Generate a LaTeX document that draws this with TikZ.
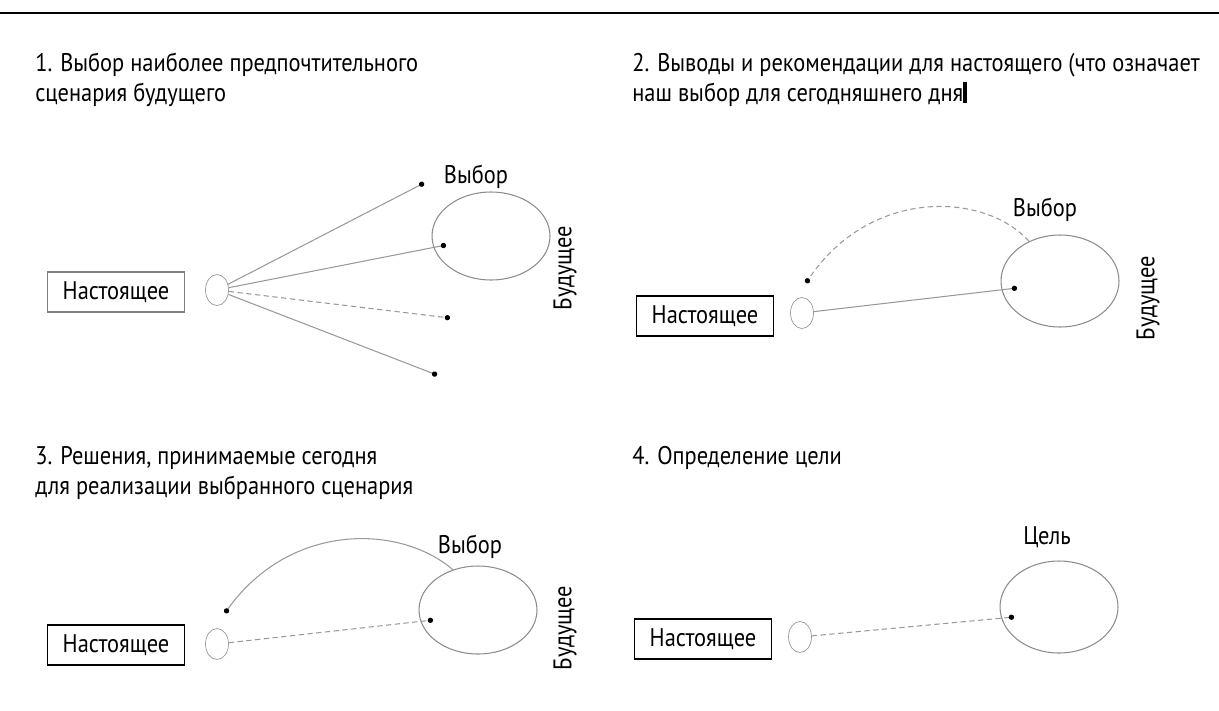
\documentclass[tikz,border=0pt]{standalone}
\usepackage{fontspec}
\setmainfont[FakeStretch=0.88]{PT Sans}
\usetikzlibrary{shapes.geometric,arrows.meta}

\begin{document}
\begin{tikzpicture}[x=0.02cm,y=-0.02cm,
  every node/.style={font=\fontsize{14.5}{17}\selectfont},
  title/.style={anchor=west, align=left, inner sep=0pt},
  nowbox/.style={rectangle, draw=black, line width=0.9pt, minimum width=2.74cm, minimum height=0.8cm},
  srcell/.style={ellipse, draw=gray!80, minimum width=0.46cm, minimum height=0.62cm, inner sep=0pt},
  futell/.style={ellipse, draw=gray!90, line width=0.6pt, minimum width=2.36cm, minimum height=1.76cm, inner sep=0pt},
  link/.style={gray!80, line width=0.6pt, -{Circle[length=3pt,black]}},
  dlink/.style={link, dash pattern=on 3pt off 2pt}]
  \useasboundingbox (0,0) rectangle (1219,710);
  \draw[line width=1.6pt] (0,13) -- (1219,13);

  % 1
  \node[title] (t1) at (35,80) {1. Выбор наиболее предпочтительного\\сценария будущего};
  \node[nowbox, draw=gray, line width=0.6pt] (now1) at (116,292) {Настоящее};
  \node[srcell] (src1) at (217,290) {};
  \node[futell] (fut1) at (491,236) {};
  \node (ch1) at (476,177) {Выбор};
  \node[rotate=90] (fu1) at (565,268) {Будущее};
  \coordinate (a1) at (424,183);
  \coordinate (b1) at (446,245);
  \coordinate (c1) at (450,318);
  \coordinate (d1) at (437,375);
  \draw[link] (src1) -- (a1);
  \draw[link] (src1) -- (b1);
  \draw[dlink] (src1) -- (c1);
  \draw[link] (src1) -- (d1);

  % 2
  \node[title] (t2) at (632,80) {2. Выводы и рекомендации для настоящего (что означает\\наш выбор для сегодняшнего дня\rule[-1pt]{2.2pt}{12pt}};
  \node[nowbox] (now2) at (705,316) {Настоящее};
  \node[srcell] (src2) at (802,313) {};
  \node[futell, minimum height=1.84cm] (fut2) at (1060,281) {};
  \node (ch2) at (1045,210) {Выбор};
  \node[rotate=90] (fu2) at (1148,298) {Будущее};
  \coordinate (b2) at (1017,288);
  \coordinate (p2) at (806,283);
  \draw[link] (src2) -- (b2);
  \draw[dlink] (fut2.128) .. controls (985,192) and (870,187) .. (p2);

  % 3
  \node[title] (t3) at (35,473) {3. Решения, принимаемые сегодня\\для реализации выбранного сценария};
  \node[nowbox] (now3) at (116,645) {Настоящее};
  \node[srcell] (src3) at (217,644) {};
  \node[futell] (fut3) at (478,610) {};
  \node (ch3) at (470,547) {Выбор};
  \node[rotate=90] (fu3) at (565,628) {Будущее};
  \coordinate (b3) at (433,620);
  \coordinate (p3) at (225,613);
  \draw[dlink] (src3) -- (b3);
  \draw[link] (fut3.122) .. controls (400,524) and (290,522) .. (p3);

  % 4
  \node[title] (t4) at (632,458) {4. Определение цели};
  \node[nowbox] (now4) at (703,639) {Настоящее};
  \node[srcell] (src4) at (800,637) {};
  \node[futell, minimum height=1.84cm] (fut4) at (1059,607) {};
  \node (ch4) at (1047,537) {Цель};
  \coordinate (b4) at (1014,617);
  \draw[dlink] (src4) -- (b4);
\end{tikzpicture}
\end{document}
